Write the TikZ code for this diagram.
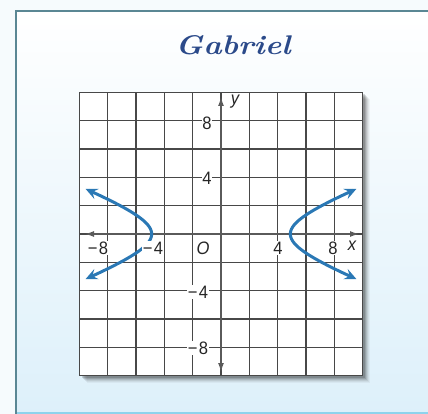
\documentclass[tikz,border=0pt]{standalone}
\usepackage{fontspec}
\newfontfamily\lab{Liberation Sans}
\usetikzlibrary{arrows.meta}
\definecolor{frameline}{HTML}{5A8794}
\definecolor{bottomline}{HTML}{8ED3EC}
\definecolor{bgbot}{HTML}{DDF0FA}
\definecolor{outside}{HTML}{F6FBFD}
\definecolor{gridc}{HTML}{484848}
\definecolor{curvec}{HTML}{2A78B5}
\definecolor{namec}{HTML}{2B4A8A}
\definecolor{axisc}{HTML}{5A5A5A}
\newcommand{\nl}[1]{\scalebox{0.92}[1]{#1}}
\begin{document}
\begin{tikzpicture}[x=1pt,y=-1pt,
  lbl/.style={font=\lab\fontsize{18}{18}\selectfont, text=black!85, fill=white, inner sep=0.6pt},
  ilbl/.style={font=\lab\itshape\fontsize{18}{18}\selectfont, text=black!85, fill=white, inner sep=0.6pt},
  gridline/.style={gridc, line width=1.3pt},
  axisline/.style={axisc, line width=1.3pt, -{Latex[length=9pt,width=6pt]}},
  branch/.style={curvec, line width=3pt, {Stealth[length=12pt,width=11pt,inset=4.5pt]}-{Stealth[length=12pt,width=11pt,inset=4.5pt]}}
]
\useasboundingbox (0,0) rectangle (428,414);
\fill[outside] (0,0) rectangle (428,414);
\shade[top color=white, bottom color=bgbot] (16,11) rectangle (428,414);
\draw[bottomline, line width=1.5pt] (16,412.8) -- (428,412.8);
\draw[frameline, line width=2pt] (16,414) -- (16,11) -- (428,11);

\node[font=\fontsize{27}{27}\selectfont, text=namec, anchor=base] (name) at (233,55) {\scalebox{1.15}[1]{\bfseries\itshape Gabriel}};

% shadow of grid
\foreach \o/\op in {7/0.04,6/0.05,5/0.07,4/0.09,3/0.12,2/0.15}{
  \fill[black, opacity=\op] (79.5+\o,92.5+\o) rectangle (362.5+\o,375.5+\o);
}
\fill[white] (79.5,92.5) rectangle (362.5,375.5);

% grid: 10 x 10 cells of 28.3pt
\foreach \i in {0,1,2,3,4,5,6,7,8,9,10}{
  \draw[gridline] ({79.5+28.3*\i},92.5) -- ({79.5+28.3*\i},375.5);
  \draw[gridline] (79.5,{92.5+28.3*\i}) -- (362.5,{92.5+28.3*\i});
}
\draw[gridline, line width=1.6pt] (79.5,92.5) rectangle (362.5,375.5);

\coordinate (org) at (221,234);
\coordinate (xl) at (85,234);
\coordinate (xr) at (359,234);
\coordinate (yb) at (221,372);
\coordinate (yt) at (221,97);
\draw[axisline] (org) -- (xr);
\draw[axisline] (org) -- (xl);
\draw[axisline] (org) -- (yt);
\draw[axisline] (org) -- (yb);

\begin{scope}[shift={(221,234)}, x=14.15pt, y=14.15pt]
  \draw[branch] plot[domain=-1.29:1.29, samples=50, smooth] ({-4.9*cosh(\x)},{1.9*sinh(\x)});
  \draw[branch] plot[domain=-1.29:1.29, samples=50, smooth] ({4.9*cosh(\x)},{1.9*sinh(\x)});
\end{scope}

\node[lbl] (y8) at (207,123) {\nl{8}};
\node[lbl] (y4) at (207,178) {\nl{4}};
\node[lbl] (ym4) at (198,292) {\nl{−\kern1.5pt4}};
\node[lbl] (ym8) at (198,348) {\nl{−\kern1.5pt8}};
\node[lbl] (xm8) at (98,248) {\nl{−\kern1.5pt8}};
\node[lbl] (xm4) at (153,248) {\nl{−\kern1.5pt4}};
\node[lbl] (x4) at (278,248) {\nl{4}};
\node[lbl] (x8) at (333,248) {\nl{8}};
\node[ilbl] (o) at (203,248) {\nl{O}};
\node[ilbl, fill=none] (xlab) at (352,246) {\nl{x}};
\node[ilbl, fill=none] (ylab) at (235,102) {\nl{y}};
\end{tikzpicture}
\end{document}
